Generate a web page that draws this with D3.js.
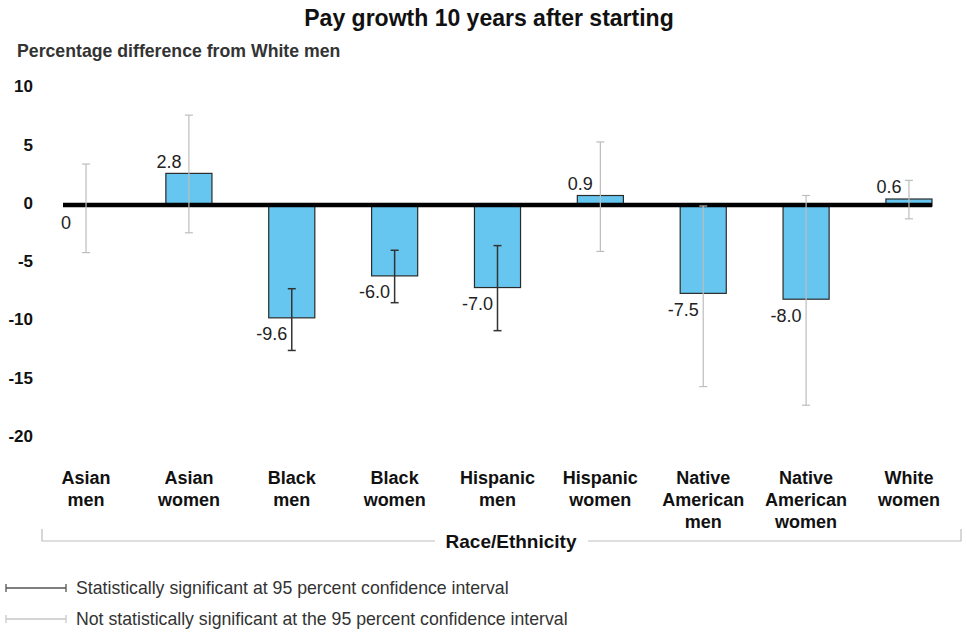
<!DOCTYPE html>
<html>
<head>
<meta charset="utf-8">
<script src="https://cdn.jsdelivr.net/npm/d3@7"></script>
<style>
  body { margin: 0; background: #fff; }
  svg { display: block; font-family: "Liberation Sans", Arial, sans-serif; }
</style>
</head>
<body>
<svg width="967" height="632"></svg>
<script>
// data
var categories = ["Asian men", "Asian women", "Black men", "Black women", "Hispanic men",
                  "Hispanic women", "Native American men", "Native American women", "White women"];
var catLines = [["Asian", "men"], ["Asian", "women"], ["Black", "men"], ["Black", "women"],
                ["Hispanic", "men"], ["Hispanic", "women"], ["Native", "American", "men"],
                ["Native", "American", "women"], ["White", "women"]];
var values = [0, 2.8, -9.6, -6.0, -7.0, 0.9, -7.5, -8.0, 0.6];
var labels = ["0", "2.8", "-9.6", "-6.0", "-7.0", "0.9", "-7.5", "-8.0", "0.6"];
var ciLow = [-4.0, -2.3, -12.4, -8.3, -10.7, -3.9, -15.5, -17.1, -1.1];
var ciHigh = [3.6, 7.8, -7.1, -3.8, -3.4, 5.5, 0.0, 0.9, 2.2];
var significant = [false, false, true, true, true, false, false, false, false];
var yTicks = [10, 5, 0, -5, -10, -15, -20];
var legendLabels = ["Statistically significant at 95 percent confidence interval",
                    "Not statistically significant at the 95 percent confidence interval"];

var svg = d3.select("svg");
var darkCol = "#333", grayCol = "#bdbdbd";

var x = d3.scaleBand().domain(categories).range([63, 932]).paddingInner(0.552).paddingOuter(0);
var y = d3.scaleLinear().domain([-20, 10]).range([439, 89.5]);

// title + subtitle
svg.append("text").attr("x", 489).attr("y", 26).attr("text-anchor", "middle")
    .style("font-size", "23px").style("font-weight", "bold").style("fill", "#111")
    .text("Pay growth 10 years after starting");
svg.append("text").attr("x", 17).attr("y", 57)
    .style("font-size", "17.7px").style("font-weight", "bold").style("fill", "#333")
    .text("Percentage difference from White men");

// y tick labels
svg.selectAll(".ytick").data(yTicks).enter().append("text")
    .attr("class", "ytick")
    .attr("x", 33).attr("y", function (d) { return y(d) - 3; })
    .attr("dy", "0.35em").attr("text-anchor", "end")
    .style("font-size", "17px").style("font-weight", "bold").style("fill", "#111")
    .text(function (d) { return d; });

// bars
svg.selectAll(".bar").data(values).enter().append("rect")
    .attr("class", "bar")
    .attr("x", function (d, i) { return x(categories[i]); })
    .attr("y", function (d) { return d >= 0 ? y(d) : y(0); })
    .attr("width", x.bandwidth())
    .attr("height", function (d) { return Math.abs(y(d) - y(0)); })
    .style("fill", "#66c6ef").style("stroke", "#2b2b2b").style("stroke-width", 1.2);

// zero line
svg.append("line")
    .attr("x1", x.range()[0]).attr("x2", x.range()[1])
    .attr("y1", y(0) - 1).attr("y2", y(0) - 1)
    .style("stroke", "#000").style("stroke-width", 4.5);

// error bars
var eb = svg.selectAll(".eb").data(categories).enter().append("g").attr("class", "eb")
    .style("stroke", function (d, i) { return significant[i] ? darkCol : grayCol; })
    .style("stroke-width", function (d, i) { return significant[i] ? 1.5 : 1.2; });
eb.append("line")
    .attr("x1", function (d) { return x(d) + x.bandwidth() / 2; })
    .attr("x2", function (d) { return x(d) + x.bandwidth() / 2; })
    .attr("y1", function (d, i) { return y(ciHigh[i]); })
    .attr("y2", function (d, i) { return y(ciLow[i]); });
eb.append("line")
    .attr("x1", function (d) { return x(d) + x.bandwidth() / 2 - 4; })
    .attr("x2", function (d) { return x(d) + x.bandwidth() / 2 + 4; })
    .attr("y1", function (d, i) { return y(ciHigh[i]); })
    .attr("y2", function (d, i) { return y(ciHigh[i]); });
eb.append("line")
    .attr("x1", function (d) { return x(d) + x.bandwidth() / 2 - 4; })
    .attr("x2", function (d) { return x(d) + x.bandwidth() / 2 + 4; })
    .attr("y1", function (d, i) { return y(ciLow[i]); })
    .attr("y2", function (d, i) { return y(ciLow[i]); });

// value labels
svg.selectAll(".vlab").data(values).enter().append("text")
    .attr("class", "vlab")
    .attr("x", function (d, i) { return x(categories[i]) + x.bandwidth() / 2 - 20; })
    .attr("y", function (d) { return d > 0 ? y(d) - 12 : (d < 0 ? y(d) + 16 : y(0) + 17); })
    .attr("dy", "0.35em").attr("text-anchor", "middle")
    .style("font-size", "18px").style("fill", "#222")
    .text(function (d, i) { return labels[i]; });

// category labels
var cl = svg.selectAll(".clab").data(categories).enter().append("text")
    .attr("class", "clab")
    .attr("text-anchor", "middle")
    .style("font-size", "18px").style("font-weight", "bold").style("fill", "#111");
cl.selectAll("tspan").data(function (d, i) { return catLines[i]; }).enter().append("tspan")
    .attr("x", function () { var c = d3.select(this.parentNode).datum(); return x(c) + x.bandwidth() / 2; })
    .attr("y", function (d, j) { return 484 + j * 22; })
    .text(function (d) { return d; });

// axis title bracket
var brY = 541;
svg.append("path")
    .attr("d", "M42," + (brY - 12) + "V" + brY + "H435M588," + brY + "H961V" + (brY - 12))
    .style("fill", "none").style("stroke", "#bdbdbd").style("stroke-width", 1.2);
svg.append("text").attr("x", 511).attr("y", brY).attr("dy", "0.35em")
    .attr("text-anchor", "middle")
    .style("font-size", "19px").style("font-weight", "bold").style("fill", "#111")
    .text("Race/Ethnicity");

// legend
var lg = svg.selectAll(".lg").data(legendLabels).enter().append("g")
    .attr("class", "lg")
    .attr("transform", function (d, i) { return "translate(0," + (588 + i * 31) + ")"; });
lg.append("path")
    .attr("d", "M6,-4V4M6,0H66M66,-4V4")
    .style("fill", "none")
    .style("stroke", function (d, i) { return i === 0 ? "#555" : "#c8c8c8"; })
    .style("stroke-width", 1.3);
lg.append("text").attr("x", 76).attr("y", 0).attr("dy", "0.35em")
    .style("font-size", "17.7px").style("fill", "#333")
    .text(function (d) { return d; });
</script>
</body>
</html>
